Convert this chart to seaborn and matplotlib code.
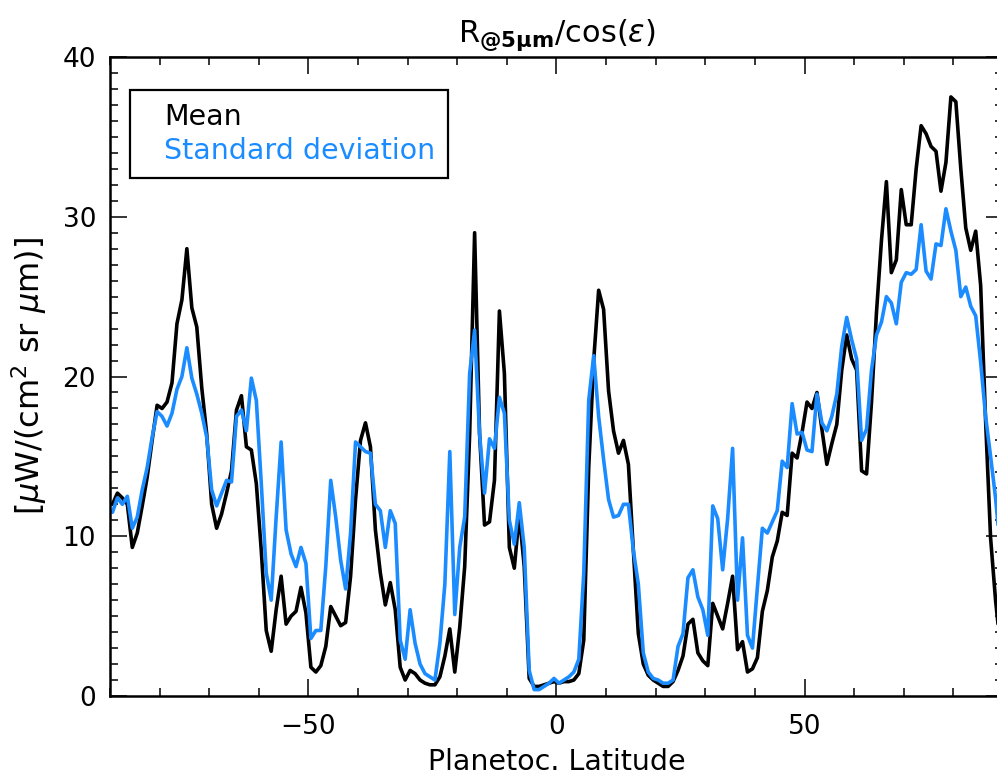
import numpy as np
import pandas as pd
import seaborn as sns
import matplotlib.pyplot as plt
from matplotlib.ticker import MultipleLocator

# latitude grid (deg), 1 degree bins
lat = [-89.5, -88.5, -87.5, -86.5, -85.5, -84.5, -83.5, -82.5, -81.5, -80.5,
       -79.5, -78.5, -77.5, -76.5, -75.5, -74.5, -73.5, -72.5, -71.5, -70.5,
       -69.5, -68.5, -67.5, -66.5, -65.5, -64.5, -63.5, -62.5, -61.5, -60.5,
       -59.5, -58.5, -57.5, -56.5, -55.5, -54.5, -53.5, -52.5, -51.5, -50.5,
       -49.5, -48.5, -47.5, -46.5, -45.5, -44.5, -43.5, -42.5, -41.5, -40.5,
       -39.5, -38.5, -37.5, -36.5, -35.5, -34.5, -33.5, -32.5, -31.5, -30.5,
       -29.5, -28.5, -27.5, -26.5, -25.5, -24.5, -23.5, -22.5, -21.5, -20.5,
       -19.5, -18.5, -17.5, -16.5, -15.5, -14.5, -13.5, -12.5, -11.5, -10.5,
       -9.5, -8.5, -7.5, -6.5, -5.5, -4.5, -3.5, -2.5, -1.5, -0.5,
       0.5, 1.5, 2.5, 3.5, 4.5, 5.5, 6.5, 7.5, 8.5, 9.5,
       10.5, 11.5, 12.5, 13.5, 14.5, 15.5, 16.5, 17.5, 18.5, 19.5,
       20.5, 21.5, 22.5, 23.5, 24.5, 25.5, 26.5, 27.5, 28.5, 29.5,
       30.5, 31.5, 32.5, 33.5, 34.5, 35.5, 36.5, 37.5, 38.5, 39.5,
       40.5, 41.5, 42.5, 43.5, 44.5, 45.5, 46.5, 47.5, 48.5, 49.5,
       50.5, 51.5, 52.5, 53.5, 54.5, 55.5, 56.5, 57.5, 58.5, 59.5,
       60.5, 61.5, 62.5, 63.5, 64.5, 65.5, 66.5, 67.5, 68.5, 69.5,
       70.5, 71.5, 72.5, 73.5, 74.5, 75.5, 76.5, 77.5, 78.5, 79.5,
       80.5, 81.5, 82.5, 83.5, 84.5, 85.5, 86.5, 87.5, 88.5, 89.5]

mean = [12.0, 12.7, 12.4, 12.0, 9.3, 10.2, 11.9, 13.7, 16.0, 18.2,
        18.0, 18.4, 19.6, 23.3, 24.8, 28.0, 24.3, 23.1, 19.3, 16.4,
        12.0, 10.5, 11.4, 12.7, 14.1, 17.9, 18.8, 15.6, 15.4, 13.3,
        9.1, 4.1, 2.8, 5.4, 7.5, 4.5, 5.0, 5.3, 6.8, 5.2,
        1.8, 1.5, 1.9, 3.1, 5.6, 5.0, 4.4, 4.6, 7.5, 12.3,
        16.0, 17.1, 15.6, 10.4, 7.7, 5.7, 7.1, 5.4, 1.8, 1.0,
        1.6, 1.4, 1.0, 0.8, 0.7, 0.7, 1.2, 2.5, 4.2, 1.5,
        4.3, 8.1, 16.4, 29.0, 16.4, 10.7, 10.9, 13.5, 24.1, 20.2,
        9.3, 8.0, 11.4, 8.1, 1.1, 0.6, 0.6, 0.7, 0.8, 0.9,
        0.8, 0.9, 0.9, 1.0, 1.4, 3.5, 14.3, 21.0, 25.4, 24.2,
        19.1, 16.6, 15.2, 16.0, 14.5, 9.1, 3.9, 2.0, 1.3, 1.0,
        0.8, 0.6, 0.6, 0.9, 1.6, 2.5, 4.5, 4.8, 2.7, 2.2,
        1.9, 5.8, 5.0, 4.2, 5.8, 7.5, 2.9, 3.4, 1.5, 1.7,
        2.4, 5.3, 6.6, 8.7, 9.7, 11.5, 11.3, 15.2, 14.9, 16.5,
        18.4, 18.0, 19.0, 16.7, 14.5, 15.8, 17.0, 20.4, 22.6, 21.1,
        20.4, 14.1, 13.9, 18.4, 24.0, 28.5, 32.2, 26.5, 27.3, 31.7,
        29.5, 29.5, 33.0, 35.7, 35.2, 34.4, 34.1, 31.6, 33.4, 37.5,
        37.2, 33.0, 29.3, 27.9, 29.1, 25.7, 17.2, 9.9, 6.0, 3.0]

stdev = [11.5, 12.4, 12.0, 12.5, 10.5, 11.2, 12.9, 14.3, 16.2, 17.8,
         17.5, 16.9, 17.7, 19.2, 20.0, 21.8, 19.9, 18.9, 17.7, 16.2,
         12.9, 11.9, 12.7, 13.5, 13.4, 17.5, 17.9, 16.6, 19.9, 18.5,
         13.3, 7.7, 6.0, 11.2, 15.9, 10.4, 8.9, 8.1, 9.3, 8.3,
         3.6, 4.1, 4.1, 8.1, 13.5, 11.2, 8.5, 6.7, 10.2, 15.9,
         15.6, 15.3, 15.2, 12.0, 11.6, 9.3, 11.6, 10.8, 3.5, 2.3,
         5.4, 3.3, 2.0, 1.4, 1.2, 1.0, 3.3, 7.0, 15.3, 5.1,
         9.3, 11.2, 20.2, 22.9, 16.4, 12.7, 16.1, 15.5, 18.7, 17.7,
         11.0, 9.5, 12.1, 9.3, 1.6, 0.4, 0.4, 0.6, 0.8, 1.1,
         0.8, 1.0, 1.2, 1.5, 2.3, 7.7, 18.5, 21.3, 17.5, 14.8,
         12.3, 11.2, 11.3, 12.0, 12.0, 9.1, 7.0, 2.7, 1.5, 1.1,
         1.0, 0.8, 0.8, 1.0, 3.1, 3.9, 7.4, 7.9, 6.2, 5.4,
         3.8, 11.9, 11.1, 7.9, 11.1, 15.5, 6.0, 9.9, 3.8, 3.0,
         6.8, 10.5, 10.2, 10.9, 11.6, 14.7, 14.3, 18.3, 16.4, 16.5,
         15.4, 15.3, 18.9, 17.1, 16.6, 17.5, 18.9, 21.9, 23.7, 22.3,
         21.1, 16.0, 16.7, 20.4, 22.6, 23.4, 25.0, 24.6, 23.3, 25.9,
         26.5, 26.4, 26.7, 29.5, 26.6, 26.1, 28.3, 28.2, 30.5, 29.1,
         27.9, 25.0, 25.6, 24.4, 23.8, 20.9, 17.5, 15.0, 12.4, 9.0]

df = pd.DataFrame({"lat": lat, "Mean": mean, "Standard deviation": stdev})

sns.set_style("ticks")
plt.rcParams["font.family"] = ["DejaVu Sans"]
plt.rcParams["text.color"] = "black"
plt.rcParams["axes.labelcolor"] = "black"

fig = plt.figure(figsize=(9.97, 7.8), dpi=100)
# right edge of the axes is cut off in the original picture
ax = fig.add_axes([0.1103, 0.1077, 0.8957, 0.8192])

sns.lineplot(data=df, x="lat", y="Mean", color="black", lw=2.6, label="Mean", ax=ax)
sns.lineplot(data=df, x="lat", y="Standard deviation", color="#1a8cff", lw=2.6,
             label="Standard deviation", ax=ax)

ax.set_xlim(-90, 90)
ax.set_ylim(0, 40)
ax.xaxis.set_major_locator(MultipleLocator(50))
ax.xaxis.set_minor_locator(MultipleLocator(10))
ax.yaxis.set_major_locator(MultipleLocator(10))
ax.yaxis.set_minor_locator(MultipleLocator(1))
ax.tick_params(which="both", direction="in", top=True, right=True, width=1.1,
               labelsize=19, colors="black")
ax.tick_params(which="major", length=12, pad=10)
ax.tick_params(axis="x", which="major", pad=13)
ax.tick_params(which="minor", length=6)
for s in ax.spines.values():
    s.set_linewidth(1.8)
    s.set_color("black")

ax.set_xlabel("Planetoc. Latitude", fontsize=20.5, labelpad=6)
ax.set_ylabel(r"[$\mu$W/(cm$^2$ sr $\mu$m)]", fontsize=23, labelpad=10)
ax.set_title(r"R$_{\mathbf{@5\mu m}}$/cos($\epsilon$)", fontsize=22, pad=11)

leg = ax.legend(loc="upper left", bbox_to_anchor=(0.0224, 0.948), borderaxespad=0,
                fontsize=20.5, labelcolor="linecolor", handlelength=0.75,
                handletextpad=0, borderpad=0.45, labelspacing=0.2,
                fancybox=False, framealpha=1, edgecolor="black")
leg.get_frame().set_linewidth(1.6)
for h in leg.legend_handles:
    h.set_visible(False)

fig.savefig("out.png", dpi=100)
